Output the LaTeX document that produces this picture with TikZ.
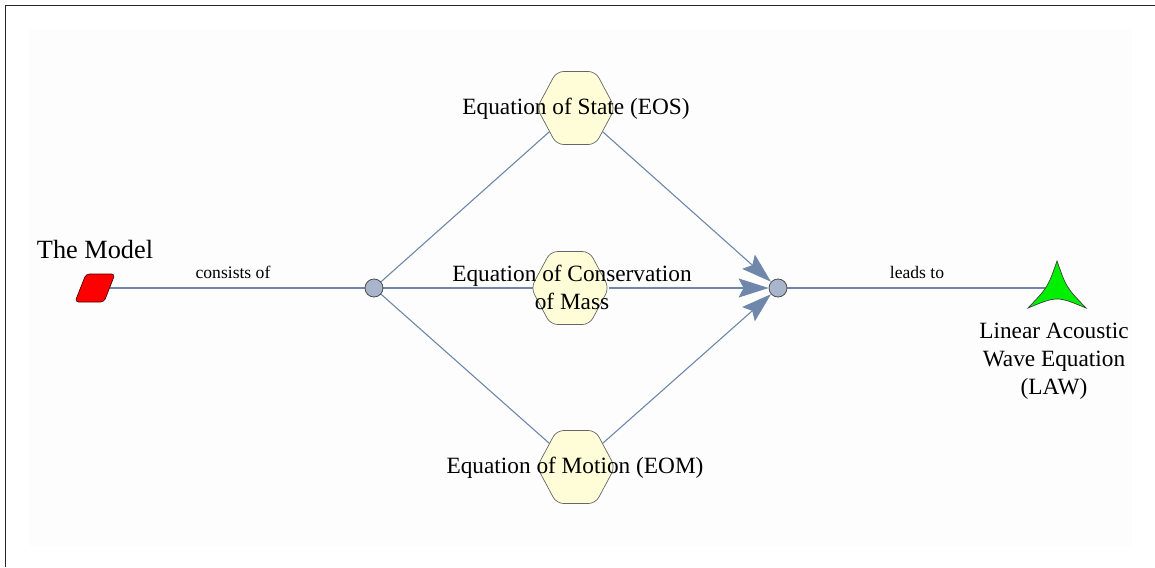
\documentclass[tikz,border=0pt]{standalone}
\usepackage{fontspec}
\setmainfont{Liberation Serif}
\usetikzlibrary{shapes.geometric,arrows.meta}

\definecolor{edgeblue}{HTML}{6F87AB}
\definecolor{hubfill}{HTML}{A8B5CD}
\definecolor{hexfill}{HTML}{FEFDD8}
\definecolor{panel}{HTML}{FDFDFD}
\definecolor{starfill}{HTML}{00F000}

\pgfdeclarelayer{panellayer}
\pgfdeclarelayer{edgelayer}
\pgfsetlayers{panellayer,edgelayer,main}

\tikzset{
  edge/.style={draw=edgeblue, line width=1.1pt},
  flow/.style={edge, -{Stealth[length=30pt,width=19pt,inset=5pt]}},
  hub/.style={circle, draw=black!70, fill=hubfill, line width=0.8pt,
    minimum size=18pt, inner sep=0pt},
  hexa/.style={regular polygon, regular polygon sides=6, draw=black!60,
    fill=hexfill, line width=0.7pt, minimum size=78pt, inner sep=0pt,
    rounded corners=7pt, yscale=1.08, transform shape},
  lbl/.style={font=\fontsize{23.3}{28}\selectfont, align=center, inner sep=0pt},
  small/.style={font=\fontsize{17.6}{21}\selectfont, inner sep=0pt},
  anchorbox/.style={rectangle, minimum width=30pt, minimum height=28pt, inner sep=0pt}
}

\begin{document}
\begin{tikzpicture}[x=1pt, y=-1pt]
  \useasboundingbox (0,0) rectangle (1155,567);
  % panel and frame
  \begin{pgfonlayer}{panellayer}
    \fill[panel] (29,29) rectangle (1132,546);
    \draw[black!85, line width=1.2pt] (5.5,567) -- (5.5,5.5) -- (1155,5.5);
  \end{pgfonlayer}

  % nodes
  \node[anchorbox] (model) at (95,288) {};
  \node[hub] (split) at (374,288) {};
  \node[hub] (join) at (778,288) {};
  \node[hexa] (eos) at (576,108) {};
  \node[hexa] (mass) at (570,288) {};
  \node[hexa] (eom) at (576,467) {};
  \coordinate (law) at (1057,288);

  % slanted box of the model
  \draw[draw=black!70!red, fill=red, line width=0.7pt, rounded corners=3.5pt]
    (75,302) -- (86,274) -- (115,274) -- (104,302) -- cycle;

  % three-pointed star for the result
  \draw[draw=black!75, fill=starfill, line width=0.7pt]
    (1057,261) .. controls (1066.2,287.3) .. (1086,308)
    .. controls (1057,296) .. (1028,308)
    .. controls (1047.8,287.3) .. cycle;

  % connectors underneath the shapes
  \begin{pgfonlayer}{edgelayer}
    \draw[edge] (model.east) -- (split);
    \draw[edge] (split) -- (eos.center);
    \draw[edge] (split) -- (mass.center);
    \draw[edge] (split) -- (eom.center);
    \draw[edge] (join) -- (law);
  \end{pgfonlayer}
  \draw[flow] (eos) -- (join);
  \draw[flow] (mass) -- (join);
  \draw[flow] (eom) -- (join);

  % labels
  \node[font=\fontsize{26.3}{31}\selectfont, inner sep=0pt] (modeltxt) at (95,250) {The Model};
  \node[small] (consists) at (233,272) {consists of};
  \node[small] (leads) at (917,272) {leads to};
  \node[lbl] (eostxt) at (576,109) {Equation of State (EOS)};
  \node[lbl] (masstxt) at (572,287) {Equation of Conservation\\of Mass};
  \node[lbl] (eomtxt) at (575,468) {Equation of Motion (EOM)};
  \node[lbl] (lawtxt) at (1054,361) {Linear Acoustic\\Wave Equation\\(LAW)};
\end{tikzpicture}
\end{document}
